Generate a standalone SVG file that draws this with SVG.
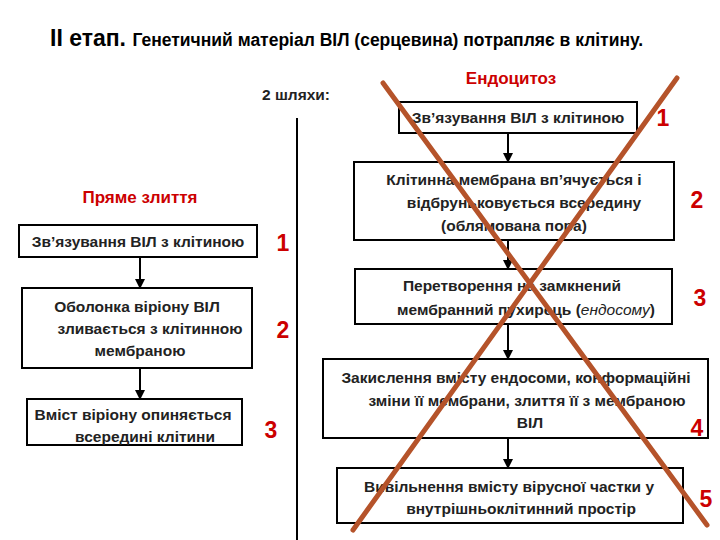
<svg xmlns="http://www.w3.org/2000/svg" width="720" height="540" viewBox="0 0 720 540">
<defs>
<marker id="ah" viewBox="0 0 10 10" refX="9" refY="5" markerWidth="10" markerHeight="10" markerUnits="userSpaceOnUse" orient="auto"><path d="M0,0 L10,5 L0,10 z" fill="#000"/></marker>
<style>
text{font-family:"Liberation Sans",Arial,sans-serif;}
.b{fill:#fff;stroke:#000;stroke-width:2;}
.t{font-size:15.5px;font-weight:bold;fill:#222;text-anchor:middle;}
.n{font-size:23px;font-weight:bold;fill:#cc0000;text-anchor:middle;}
.h{font-size:17px;font-weight:bold;fill:#cc0000;text-anchor:middle;}
.c{stroke:#000;stroke-width:2;marker-end:url(#ah);}
</style>
</defs>
<rect width="720" height="540" fill="#fff"/>
<text x="50" y="46" font-size="23" font-weight="bold">ІІ етап. <tspan font-size="17.5">Генетичний матеріал ВІЛ (серцевина) потрапляє в клітину.</tspan></text>
<text x="296" y="100" class="t" font-weight="normal" font-size="17">2 шляхи:</text>
<line x1="297" y1="118" x2="297" y2="540" stroke="#000" stroke-width="2"/>
<text x="140" y="203" class="h">Пряме злиття</text>
<text x="511" y="84" class="h">Ендоцитоз</text>
<g id="connectors">
<line class="c" x1="140" y1="257" x2="140" y2="288"/>
<line class="c" x1="140" y1="368" x2="140" y2="399"/>
<line class="c" x1="508" y1="133" x2="508" y2="162"/>
<line class="c" x1="508" y1="240" x2="508" y2="269"/>
<line class="c" x1="508" y1="324" x2="508" y2="359"/>
<line class="c" x1="508" y1="438" x2="508" y2="468"/>
</g>
<g id="l1"><rect class="b" x="19" y="225" width="238" height="32"/><text class="t" x="138" y="247">Зв’язування ВІЛ з клітиною</text></g>
<g id="l2"><rect class="b" x="22" y="288" width="230" height="80"/><text class="t" x="137" y="312">Оболонка віріону ВІЛ</text><text class="t" x="150" y="334">зливається з клітинною</text><text class="t" x="140" y="356">мембраною</text></g>
<g id="l3"><rect class="b" x="27" y="399" width="215" height="46"/><text class="t" x="133" y="420">Вміст віріону опиняється</text><text class="t" x="145" y="442">всередині клітини</text></g>
<g id="r1"><rect class="b" x="399" y="102" width="238" height="31"/><text class="t" x="518" y="123">Зв’язування ВІЛ з клітиною</text></g>
<g id="r2"><rect class="b" x="354" y="162" width="320" height="78"/><text class="t" x="514" y="185">Клітинна мембрана вп’ячується і</text><text class="t" x="524" y="208">відбруньковується всередину</text><text class="t" x="514" y="231">(облямована пора)</text></g>
<g id="r3"><rect class="b" x="355" y="269" width="317" height="55"/><text class="t" x="512" y="291">Перетворення на замкнений</text><text class="t" x="526" y="315">мембранний пухирець (<tspan font-style="italic" font-weight="normal">ендосому</tspan>)</text></g>
<g id="r4"><rect class="b" x="323" y="359" width="385" height="79"/><text class="t" x="516" y="383">Закислення вмісту ендосоми, конформаційні</text><text class="t" x="527" y="406">зміни її мембрани,  злиття її з мембраною</text><text class="t" x="530" y="428">ВІЛ</text></g>
<g id="r5"><rect class="b" x="337" y="468" width="346" height="55"/><text class="t" x="509" y="492">Вивільнення вмісту вірусної частки у</text><text class="t" x="521" y="514">внутрішньоклітинний простір</text></g>
<text class="n" x="283" y="251">1</text><text class="n" x="283" y="338">2</text><text class="n" x="271" y="438">3</text>
<text class="n" x="663" y="126">1</text><text class="n" x="697" y="208">2</text><text class="n" x="700" y="306">3</text><text class="n" x="697" y="436">4</text><text class="n" x="706" y="507">5</text>
<g id="cross" stroke="#b5532a" stroke-width="5" stroke-linecap="round">
<line x1="383" y1="83" x2="707" y2="525"/>
<line x1="677" y1="78" x2="353" y2="530"/>
</g>
</svg>
